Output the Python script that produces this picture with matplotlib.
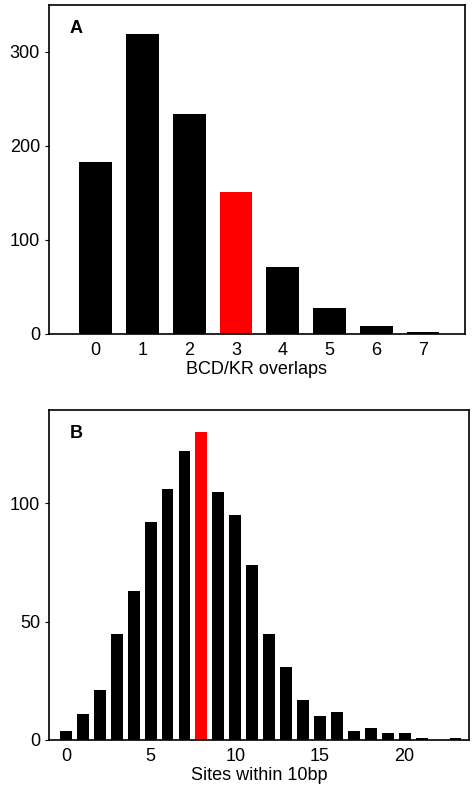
import numpy as np
import matplotlib.pyplot as plt

plt.rcParams['font.family'] = ['Liberation Sans', 'DejaVu Sans']

# panel A
overlaps = [0, 1, 2, 3, 4, 5, 6, 7]
overlap_counts = [183, 319, 234, 151, 71, 28, 8, 2]
overlap_hl = 3

# panel B
sites = list(range(24))
site_counts = [4, 11, 21, 45, 63, 92, 106, 122, 130, 105, 95, 74, 45, 31, 17,
               10, 12, 4, 5, 3, 3, 1, 0, 1]
site_hl = 8

fig = plt.figure(figsize=(4.75, 8.0), dpi=100)
ax1 = fig.add_axes([49/475, 1-334/800, 416/475, 329/800])
ax2 = fig.add_axes([49/475, 1-740/800, 420/475, 330/800])

cols = ['red' if x == overlap_hl else 'black' for x in overlaps]
ax1.bar(overlaps, overlap_counts, width=0.7, color=cols)
ax1.set_xlim(-1.0, 7.9)
ax1.set_ylim(0, 350)
ax1.set_yticks([0, 100, 200, 300])
ax1.set_xticks(overlaps)
ax1.set_xlabel('BCD/KR overlaps', fontsize=13, labelpad=1)
ax1.text(0.05, 0.93, 'A', transform=ax1.transAxes, fontsize=13,
         fontweight='bold', va='center')

cols = ['red' if x == site_hl else 'black' for x in sites]
ax2.bar(sites, site_counts, width=0.7, color=cols)
ax2.set_xlim(-1.0, 23.8)
ax2.set_ylim(0, 139.5)
ax2.set_yticks([0, 50, 100])
ax2.set_xticks([0, 5, 10, 15, 20])
ax2.set_xlabel('Sites within 10bp', fontsize=13, labelpad=1)
ax2.text(0.05, 0.93, 'B', transform=ax2.transAxes, fontsize=13,
         fontweight='bold', va='center')

for ax in (ax1, ax2):
    for s in ax.spines.values():
        s.set_linewidth(1.2)
    ax.tick_params(labelsize=13, length=3, width=0.8)
    ax.tick_params(axis='x', length=0, pad=6)

fig.savefig('out.png', dpi=100)
